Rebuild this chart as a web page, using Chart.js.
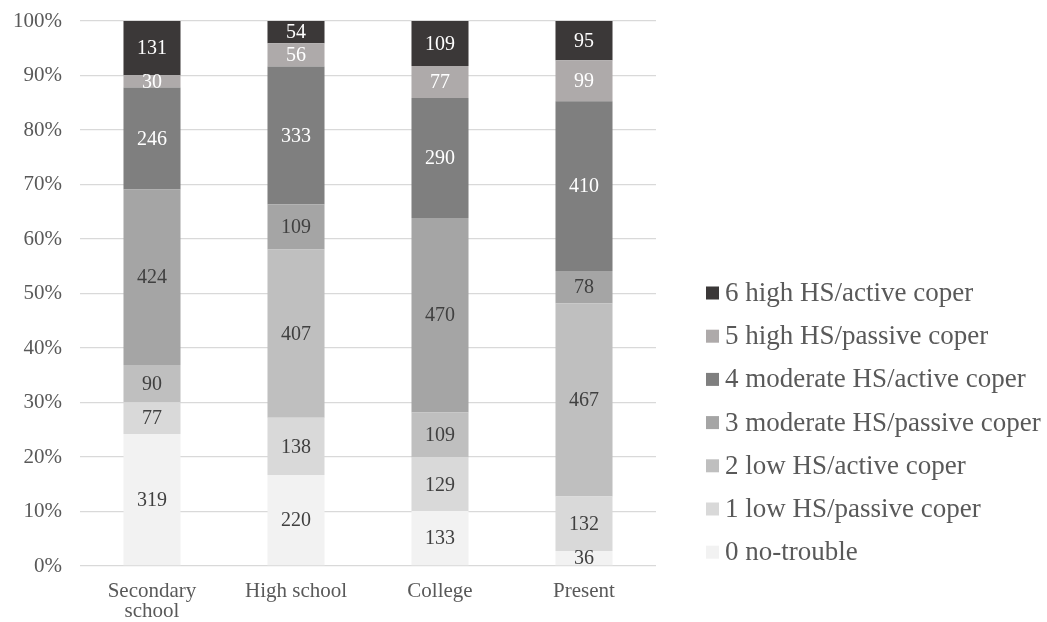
<!DOCTYPE html>
<html>
<head>
<meta charset="utf-8">
<title>Coping profiles by period</title>
<script src="https://cdn.jsdelivr.net/npm/chart.js@4/dist/chart.umd.min.js"></script>
<style>
  html, body { margin: 0; padding: 0; background: #ffffff; }
  #wrap { position: relative; width: 1047px; height: 622px; }
</style>
</head>
<body>
<div id="wrap"><canvas id="chart" width="1047" height="622"></canvas></div>
<script>
// Periods on the x axis
const categories = [["Secondary", "school"], "High school", "College", "Present"];

// Group labels, bottom of the stack to top
const groupLabels = [
  "0 no-trouble",
  "1 low HS/passive coper",
  "2 low HS/active coper",
  "3 moderate HS/passive coper",
  "4 moderate HS/active coper",
  "5 high HS/passive coper",
  "6 high HS/active coper"
];

// Counts per group, one value per period
const noTrouble        = [319, 220, 133, 36];
const lowPassive       = [77, 138, 129, 132];
const lowActive        = [90, 407, 109, 467];
const moderatePassive  = [424, 109, 470, 78];
const moderateActive   = [246, 333, 290, 410];
const highPassive      = [30, 56, 77, 99];
const highActive       = [131, 54, 109, 95];

// Y axis tick labels
const yTickLabels = ["0%", "10%", "20%", "30%", "40%", "50%", "60%", "70%", "80%", "90%", "100%"];

const groupCounts = [noTrouble, lowPassive, lowActive, moderatePassive, moderateActive, highPassive, highActive];
const groupColors = ["#f2f2f2", "#d9d9d9", "#bfbfbf", "#a5a5a5", "#7f7f7f", "#aeaaaa", "#3b3838"];
const labelColors = ["#404040", "#404040", "#404040", "#404040", "#ffffff", "#ffffff", "#ffffff"];

const FONT = '"Liberation Serif", "Times New Roman", serif';

// Column totals for the 100% stack
const totals = categories.map((_, i) => groupCounts.reduce((s, arr) => s + arr[i], 0));

const datasets = groupCounts.map((arr, g) => ({
  label: groupLabels[g],
  data: arr.map((v, i) => v / totals[i] * 100),
  counts: arr,
  backgroundColor: groupColors[g],
  borderWidth: 0,
  categoryPercentage: 1.0,
  barPercentage: 0.396
}));

// Count labels centred inside each segment
const segmentLabels = {
  id: 'segmentLabels',
  afterDatasetsDraw(chart) {
    const ctx = chart.ctx;
    ctx.save();
    ctx.font = '20px ' + FONT;
    ctx.textAlign = 'center';
    ctx.textBaseline = 'middle';
    chart.data.datasets.forEach((ds, di) => {
      const meta = chart.getDatasetMeta(di);
      meta.data.forEach((bar, i) => {
        const cy = (bar.y + bar.base) / 2;
        ctx.fillStyle = labelColors[di];
        ctx.fillText(String(ds.counts[i]), bar.x, cy + 1);
      });
    });
    ctx.restore();
  }
};

// Legend on the right, top group first
const sideLegend = {
  id: 'sideLegend',
  afterDraw(chart) {
    const ctx = chart.ctx;
    const area = chart.chartArea;
    const boxX = area.right + 50;
    const top = 293;
    const step = 43.2;
    const box = 13;
    ctx.save();
    ctx.font = '27px ' + FONT;
    ctx.textAlign = 'left';
    ctx.textBaseline = 'middle';
    const n = chart.data.datasets.length;
    for (let k = 0; k < n; k++) {
      const di = n - 1 - k;
      const ds = chart.data.datasets[di];
      const cy = top + k * step;
      ctx.fillStyle = ds.backgroundColor;
      ctx.fillRect(boxX, cy - box / 2, box, box);
      ctx.fillStyle = '#595959';
      ctx.fillText(ds.label, boxX + box + 6, cy + 1);
    }
    ctx.restore();
  }
};

new Chart(document.getElementById('chart'), {
  type: 'bar',
  data: { labels: categories, datasets },
  options: {
    responsive: false,
    animation: false,
    layout: { padding: { top: 21, right: 391, bottom: 0, left: 0 } },
    plugins: {
      legend: { display: false },
      tooltip: { enabled: false }
    },
    scales: {
      x: {
        stacked: true,
        grid: { display: false, drawTicks: false },
        border: { display: false },
        ticks: {
          color: '#595959',
          font: { family: FONT, size: 21, lineHeight: 0.98 },
          padding: 15,
          maxRotation: 0,
          autoSkip: false
        },
        afterFit(scale) { scale.height = 56; }
      },
      y: {
        stacked: true,
        min: 0,
        max: 100,
        grid: { color: '#d9d9d9', lineWidth: 1.3, drawTicks: true, tickLength: 18, tickColor: 'rgba(0,0,0,0)' },
        border: { display: false },
        ticks: {
          stepSize: 10,
          color: '#595959',
          font: { family: FONT, size: 21 },
          padding: 0,
          callback: (v) => yTickLabels[Math.round(v / 10)]
        },
        afterFit(scale) { scale.width = 80; }
      }
    }
  },
  plugins: [segmentLabels, sideLegend]
});
</script>
</body>
</html>
